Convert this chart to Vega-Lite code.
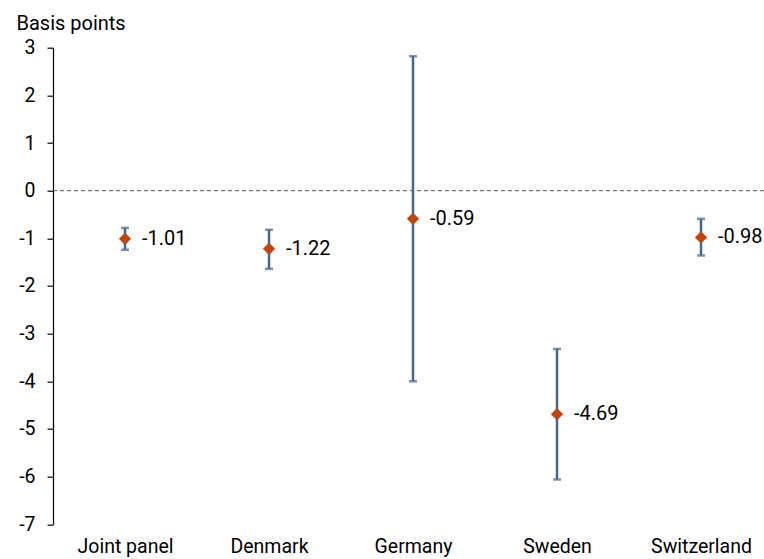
{
  "$schema": "https://vega.github.io/schema/vega-lite/v6.json",
  "autosize": "none",
  "width": 711,
  "height": 476.6,
  "padding": {"left": 53, "top": 47.7, "right": 0, "bottom": 35},
  "background": "white",
  "config": {"view": {"stroke": null}, "font": "Roboto"},
  "data": {
    "values": [
      {"group": "Joint panel", "est": -1.01, "lo": -1.24, "hi": -0.78, "label": "-1.01"},
      {"group": "Denmark", "est": -1.22, "lo": -1.64, "hi": -0.82, "label": "-1.22"},
      {"group": "Germany", "est": -0.59, "lo": -4.0, "hi": 2.82, "label": "-0.59"},
      {"group": "Sweden", "est": -4.69, "lo": -6.06, "hi": -3.32, "label": "-4.69"},
      {"group": "Switzerland", "est": -0.98, "lo": -1.36, "hi": -0.59, "label": "-0.98"}
    ]
  },
  "encoding": {
    "x": {
      "field": "group",
      "type": "nominal",
      "sort": null,
      "scale": {"type": "point", "range": [72, 648], "padding": 0},
      "axis": {
        "title": null,
        "domain": false,
        "ticks": false,
        "labelAngle": 0,
        "labelFontSize": 19.5,
        "labelColor": "#000000",
        "labelPadding": 13,
        "labelFont": "Roboto"
      }
    }
  },
  "layer": [
    {
      "data": {"values": [{"z": 0}]},
      "mark": {"type": "rule", "strokeDash": [4, 3], "color": "#555555", "strokeWidth": 1},
      "encoding": {
        "x": null,
        "y": {
          "field": "z",
          "type": "quantitative",
          "scale": {"domain": [-7, 3], "nice": false, "zero": false},
          "axis": {
            "title": "Basis points",
            "titleAngle": 0,
            "titleAlign": "left",
            "titleBaseline": "alphabetic",
            "titleX": -37,
            "titleY": -18,
            "titleFontSize": 20,
            "titleFontWeight": "normal",
            "titleColor": "#000000",
            "titleFont": "Roboto",
            "values": [-7, -6, -5, -4, -3, -2, -1, 0, 1, 2, 3],
            "labelExpr": "replace(datum.label, '−', '-')",
            "grid": false,
            "domainColor": "#000000",
            "domainWidth": 1.2,
            "tickColor": "#000000",
            "tickSize": 6,
            "tickWidth": 1.2,
            "labelFontSize": 19.5,
            "labelColor": "#000000",
            "labelPadding": 12,
            "labelFont": "Roboto"
          }
        }
      }
    },
    {
      "mark": {"type": "rule", "color": "#416892", "strokeWidth": 2.5},
      "encoding": {
        "y": {"field": "lo", "type": "quantitative"},
        "y2": {"field": "hi"}
      }
    },
    {
      "mark": {"type": "tick", "color": "#416892", "size": 8, "thickness": 2.5},
      "encoding": {"y": {"field": "lo", "type": "quantitative"}}
    },
    {
      "mark": {"type": "tick", "color": "#416892", "size": 8, "thickness": 2.5},
      "encoding": {"y": {"field": "hi", "type": "quantitative"}}
    },
    {
      "mark": {"type": "point", "shape": "diamond", "filled": true, "size": 150, "color": "#c4430a", "opacity": 1},
      "encoding": {"y": {"field": "est", "type": "quantitative"}}
    },
    {
      "mark": {"type": "text", "align": "left", "baseline": "middle", "dx": 17, "fontSize": 20, "color": "#000000", "font": "Roboto"},
      "encoding": {
        "y": {"field": "est", "type": "quantitative"},
        "text": {"field": "label"}
      }
    }
  ]
}
